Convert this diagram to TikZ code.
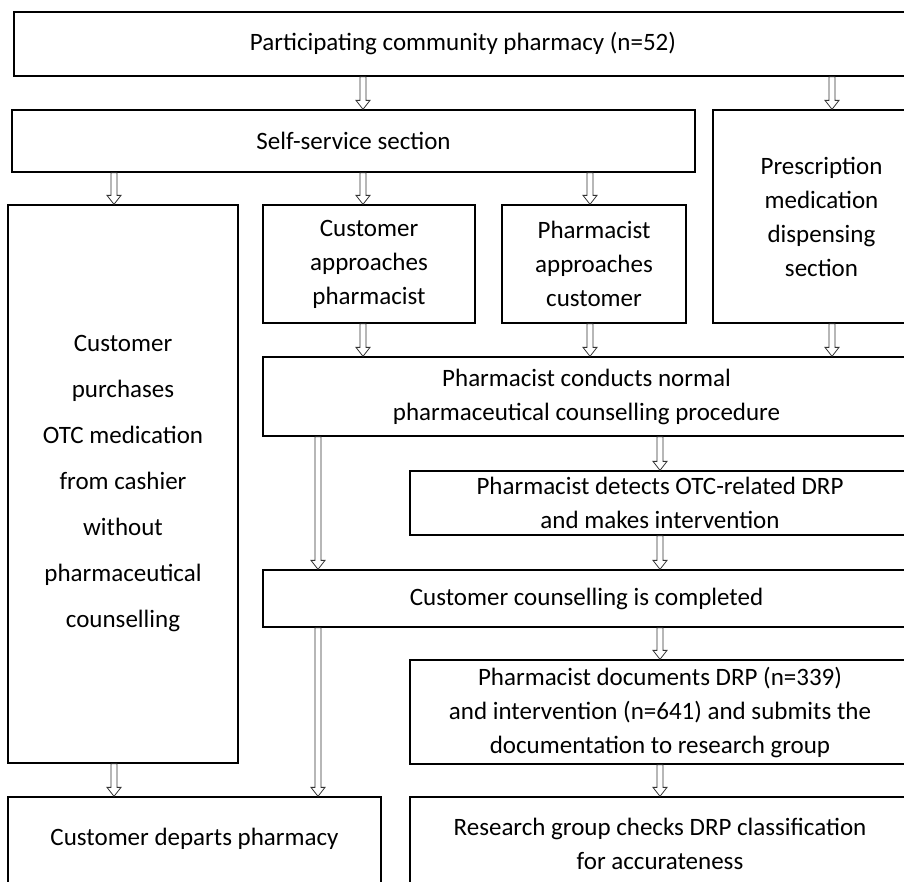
\documentclass[tikz,border=0pt]{standalone}
\usepackage{fontspec}
\setmainfont{Carlito}
\usetikzlibrary{calc}

\tikzset{
  box/.style={draw, line width=1.3pt, align=center, inner sep=0pt,
    font=\fontsize{25}{34}\selectfont},
  hollow/.style={draw=black!80, line width=0.8pt,
    to path={let \p1=(\tikztostart), \p2=(\tikztotarget) in
      (\x1-3pt,\y1) -- (\x1-3pt,\y2+9pt) -- (\x1-7pt,\y2+9pt) -- (\x1,\y2)
      -- (\x1+7pt,\y2+9pt) -- (\x1+3pt,\y2+9pt) -- (\x1+3pt,\y1) -- cycle}}
}

\begin{document}
\begin{tikzpicture}[x=1pt, y=-1pt]
  \useasboundingbox (0,0) rectangle (904,881);
  \clip (0,0) rectangle (904,881);
  % boxes
  \node[box, minimum width=898pt, minimum height=64pt] (top) at (463,44) {Participating community pharmacy (n=52)};
  \node[box, minimum width=683pt, minimum height=62pt] (ss) at (353.5,141) {Self-service section};
  \node[box, minimum width=217pt, minimum height=213pt] (rx) at (821.5,216.5) {Prescription\\ medication\\ dispensing\\ section};
  \node[box, minimum width=230pt, minimum height=558pt, font=\fontsize{25}{46}\selectfont] (otc) at (123,484)
    {Customer\\ purchases\\ OTC medication\\ from cashier\\ without\\ pharmaceutical\\ counselling};
  \node[box, minimum width=212pt, minimum height=118pt] (cap) at (369,264) {Customer\\ approaches\\ pharmacist};
  \node[box, minimum width=184pt, minimum height=118pt] (pac) at (594,264) {Pharmacist\\ approaches\\ customer};
  \node[box, minimum width=647pt, minimum height=79pt] (cond) at (586.5,396.5) {Pharmacist conducts normal\\ pharmaceutical counselling procedure};
  \node[box, minimum width=500pt, minimum height=64pt] (det) at (660,503) {Pharmacist detects OTC-related DRP\\ and makes intervention};
  \node[box, minimum width=647pt, minimum height=57pt] (done) at (586.5,598.5) {Customer counselling is completed};
  \node[box, minimum width=500pt, minimum height=104pt] (doc) at (660,712) {Pharmacist documents DRP (n=339)\\ and intervention (n=641) and submits the\\ documentation to research group};
  \node[box, minimum width=373pt, minimum height=101pt, text depth=22pt] (dep) at (194.5,847.5) {Customer departs pharmacy};
  \node[box, minimum width=500pt, minimum height=101pt, text depth=8pt] (res) at (660,847.5) {Research group checks DRP classification\\ for accurateness};
  % hollow arrows
  \draw[hollow] ([xshift=-6pt]cap.north |- top.south) to (ss.north);
  \draw[hollow] ([xshift=10.5pt]rx.north |- top.south) to (rx.north);
  \draw[hollow] ([xshift=-9pt]otc.north |- ss.south) to (otc.north);
  \draw[hollow] ([xshift=-6pt]cap.north |- ss.south) to (cap.north);
  \draw[hollow] ([xshift=-4pt]pac.north |- ss.south) to (pac.north);
  \draw[hollow] ([xshift=-6pt]cap.south) to (cond.north);
  \draw[hollow] ([xshift=-4pt]pac.south) to (cond.north);
  \draw[hollow] ([xshift=10.5pt]rx.south) to (cond.north);
  \draw[hollow] (det.north |- cond.south) to (det.north);
  \draw[hollow] ([xshift=-51pt]cap.south |- cond.south) to (done.north);
  \draw[hollow] (det.south) to (done.north);
  \draw[hollow] (doc.north |- done.south) to (doc.north);
  \draw[hollow] ([xshift=-51pt]cap.south |- done.south) to (dep.north);
  \draw[hollow] ([xshift=-9pt]otc.south) to (dep.north);
  \draw[hollow] (doc.south) to (res.north);
\end{tikzpicture}
\end{document}
